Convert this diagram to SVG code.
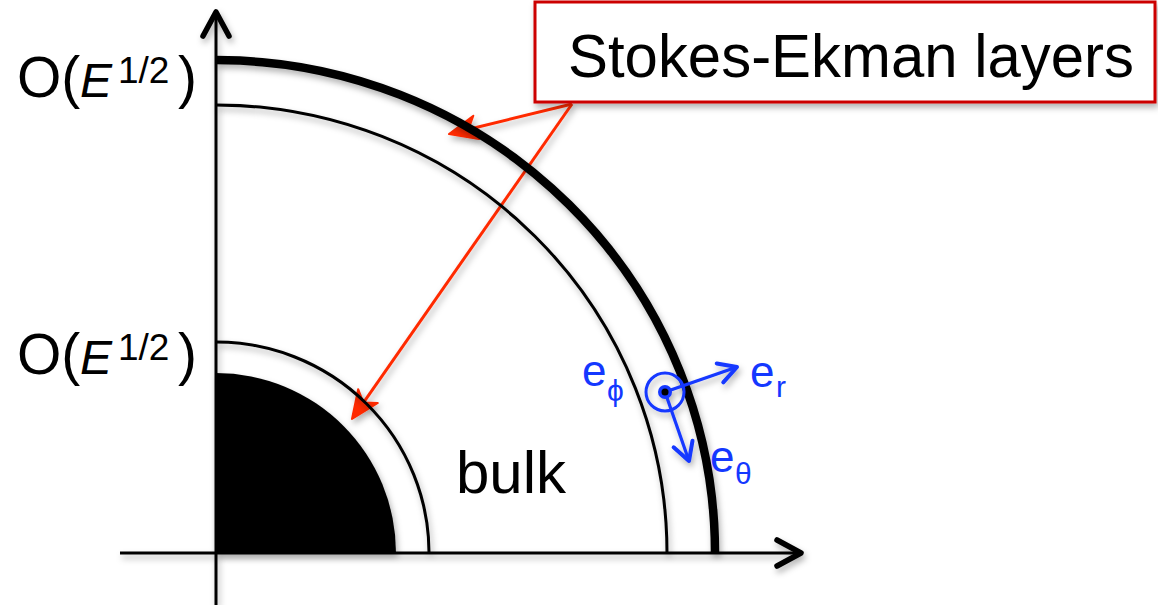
<svg xmlns="http://www.w3.org/2000/svg" width="1158" height="605" viewBox="0 0 1158 605">
  <style>
    .ax { stroke:#000; stroke-width:3; fill:none; }
    .arc { stroke:#000; stroke-width:3; fill:none; }
    .thick { stroke:#000; stroke-width:8.5; fill:none; }
    .red { stroke:#ff2a00; stroke-width:3; fill:none; }
    .blue { stroke:#1438ff; stroke-width:3.2; fill:none; }
    .lbl { font-family:"Liberation Sans", Arial, sans-serif; fill:#000; }
    .bl { font-family:"Liberation Sans", Arial, sans-serif; fill:#1438ff; }
  </style>
  <defs>
    <filter id="sh" x="-10%" y="-10%" width="130%" height="130%">
      <feDropShadow dx="2" dy="4" stdDeviation="3" flood-color="#000" flood-opacity="0.3"/>
    </filter>
    <marker id="axHead" markerUnits="userSpaceOnUse" viewBox="-40 -25 50 50" markerWidth="50" markerHeight="50" refX="0" refY="0" orient="auto" overflow="visible">
      <path d="M-24,-13 L0,0 L-24,13" fill="none" stroke="#000" stroke-width="5.5" stroke-linecap="round" stroke-linejoin="round"/>
    </marker>
    <marker id="redHead" markerUnits="userSpaceOnUse" viewBox="-40 -25 60 50" markerWidth="60" markerHeight="50" refX="0" refY="0" orient="auto" overflow="visible">
      <path d="M10,0 L-18,-12 L-10,0 L-18,12 Z" fill="#ff2a00" stroke="#ff2a00" stroke-width="2" stroke-linejoin="round"/>
    </marker>
    <marker id="blueHead" markerUnits="userSpaceOnUse" viewBox="-30 -20 40 40" markerWidth="40" markerHeight="40" refX="0" refY="0" orient="auto" overflow="visible">
      <path d="M-18,-10 L0,0 L-18,10" fill="none" stroke="#1438ff" stroke-width="4" stroke-linecap="round" stroke-linejoin="round"/>
    </marker>
  </defs>
  <rect width="1158" height="605" fill="#fff"/>

  <g id="connectors" filter="url(#sh)">
    <line class="red" x1="572" y1="104" x2="458.7" y2="131.7" marker-end="url(#redHead)"/>
    <line class="red" x1="572" y1="104" x2="357.7" y2="410.8" marker-end="url(#redHead)"/>
  </g>

  <g id="core" filter="url(#sh)">
    <path d="M216,373 A180,180 0 0 1 396,553 L216,553 Z" fill="#000"/>
  </g>
  <g id="inner-layer" filter="url(#sh)">
    <path class="arc" d="M216,342 A213,211 0 0 1 429,552"/>
  </g>
  <g id="outer-layer" filter="url(#sh)">
    <path class="arc" d="M216,105 A451,448 0 0 1 667,553"/>
  </g>
  <g id="outer-boundary" filter="url(#sh)">
    <path class="thick" d="M216,60 A499,493 0 0 1 715,553"/>
  </g>

  <g id="axes" filter="url(#sh)">
    <line class="ax" x1="216" y1="605" x2="216" y2="12" marker-end="url(#axHead)"/>
    <line class="ax" x1="120" y1="553" x2="801" y2="553" marker-end="url(#axHead)"/>
  </g>

  <g id="label-top">
    <text class="lbl" font-size="57"><tspan x="17" y="97">O(</tspan><tspan x="80" y="97" font-size="48" font-style="italic">E</tspan><tspan x="118" y="83" font-size="37">1/2</tspan><tspan x="178" y="97">)</tspan></text>
  </g>
  <g id="label-bottom">
    <text class="lbl" font-size="57"><tspan x="17" y="374">O(</tspan><tspan x="80" y="374" font-size="48" font-style="italic">E</tspan><tspan x="118" y="360" font-size="37">1/2</tspan><tspan x="178" y="374">)</tspan></text>
  </g>

  <g id="stokes-ekman-box">
    <rect x="535" y="2" width="620" height="100" fill="#fff" stroke="#cc0000" stroke-width="3" filter="url(#sh)"/>
    <text class="lbl" x="568" y="77" font-size="62" textLength="566" lengthAdjust="spacingAndGlyphs">Stokes-Ekman layers</text>
  </g>

  <g id="bulk">
    <text class="lbl" x="456" y="493" font-size="60">bulk</text>
  </g>

  <g id="basis" filter="url(#sh)">
    <line class="blue" x1="665" y1="392" x2="737" y2="367" marker-end="url(#blueHead)"/>
    <line class="blue" x1="665" y1="392" x2="689" y2="461" marker-end="url(#blueHead)"/>
    <circle cx="665" cy="392" r="19" fill="none" stroke="#1438ff" stroke-width="3"/>
    <circle cx="665" cy="392" r="7" fill="#1438ff"/>
    <circle cx="665" cy="392" r="3.5" fill="#000"/>
  </g>
  <g id="basis-labels">
    <text class="bl" x="582" y="386" font-size="44">e</text>
    <text class="bl" x="607" y="401" font-size="30" font-family="DejaVu Sans, sans-serif">ϕ</text>
    <text class="bl" x="750" y="387" font-size="44">e</text>
    <text class="bl" x="776" y="397" font-size="30">r</text>
    <text class="bl" x="710" y="472" font-size="44">e</text>
    <text class="bl" x="735" y="484" font-size="30">θ</text>
  </g>
</svg>
